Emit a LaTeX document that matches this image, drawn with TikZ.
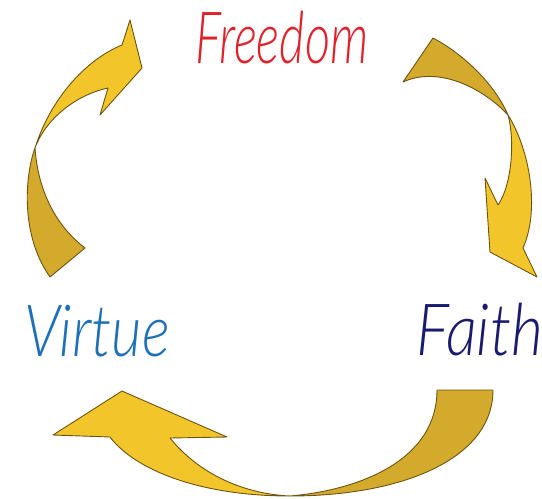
\documentclass[tikz,border=0pt]{standalone}
\usepackage{fontspec}
\newfontfamily\hand{Lato}[ItalicFont={Lato Light Italic}]
\definecolor{arlight}{HTML}{F2C52A}
\definecolor{ardark}{HTML}{D3AA2C}
\definecolor{aredge}{HTML}{6B5414}
\definecolor{cfree}{HTML}{E0202A}
\definecolor{cvirt}{HTML}{1E70B8}
\definecolor{cfaith}{HTML}{1A1A6E}
\tikzset{
  halflight/.style={fill=arlight, draw=aredge, line width=0.9pt, line join=round},
  halfdark/.style={fill=ardark, draw=aredge, line width=0.9pt, line join=round},
  word/.style={inner sep=0pt, font=\hand\itshape\fontsize{72}{72}\selectfont}
}
\begin{document}
\begin{tikzpicture}[x=1pt,y=-1pt]
\useasboundingbox (0,0) rectangle (542,499);
% left arrow
\path[halfdark] (35,148) .. controls (25,175) and (20,235) .. (50,277) -- (85,248) .. controls (55,225) and (38,190) .. (35,148) -- cycle;
\path[halflight] (35,148) .. controls (50,100) and (85,60) .. (122,45) -- (130,20) -- (142,68) -- (100,115) -- (108,88) .. controls (75,95) and (45,120) .. (35,148) -- cycle;
% right arrow
\path[halfdark] (433,38) .. controls (465,55) and (495,85) .. (508,115) .. controls (485,90) and (440,65) .. (403,82) -- cycle;
\path[halflight] (508,115) .. controls (530,150) and (540,210) .. (523,248) -- (537,277) -- (490,252) -- (485,178) -- (498,205) .. controls (512,185) and (515,140) .. (508,115) -- cycle;
% bottom arrow
\path[halfdark] (437,390) -- (493,390) .. controls (493,460) and (400,496) .. (290,496) .. controls (360,490) and (437,460) .. (437,390) -- cycle;
\path[halflight] (290,496) .. controls (200,496) and (135,470) .. (110,437) -- (53,435) -- (122,391) -- (227,437) -- (170,438) .. controls (200,475) and (245,494) .. (290,496) -- cycle;
% words
\node[word, text=cfree, anchor=base] (freedom) at (282,63) {\scalebox{0.68}[1]{Freedom}};
\node[word, text=cvirt, anchor=base] (virtue) at (97,356) {\scalebox{0.82}[1]{Virtue}};
\node[word, text=cfaith, anchor=base] (faith) at (480,355) {\scalebox{0.86}[1]{Faith}};
\end{tikzpicture}
\end{document}
